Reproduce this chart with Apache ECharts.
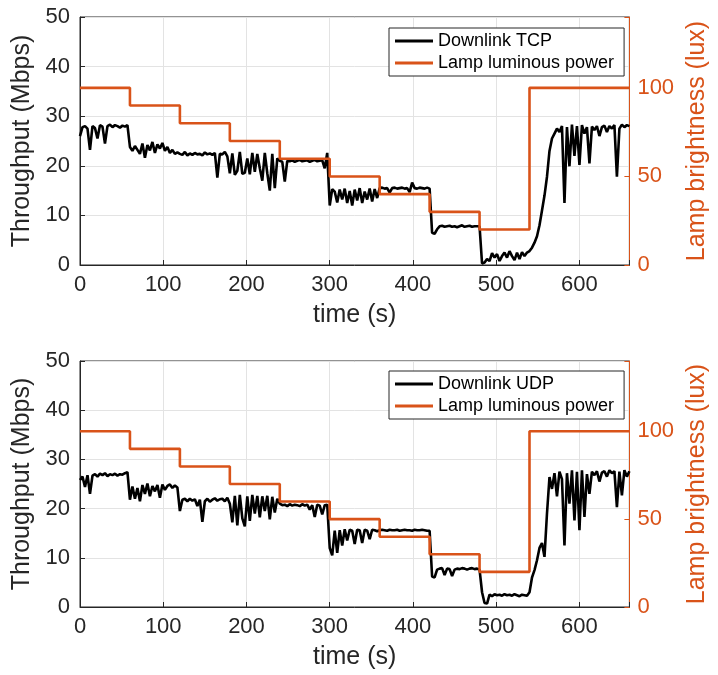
<!DOCTYPE html>
<html>
<head>
<meta charset="utf-8">
<script src="https://cdn.jsdelivr.net/npm/echarts@6/dist/echarts.min.js"></script>
<style>
html,body{margin:0;padding:0;background:#fff;overflow:hidden;}
#chart{width:718px;height:675px;}
</style>
</head>
<body>
<div id="chart"></div>
<script>
// ---- data ----
const sampleStep = 3; // seconds between throughput samples (0..660)
const tcpMbps = [
 26,27.8,28,27.5,23.2,28,27.6,25.5,28.2,27.9,24.5,28,28.3,27.8,28.2,28,27.7,28.1,27.9,28.2,
 23.8,23,24,23.2,22.4,24.5,21.6,24.2,23.1,24.8,22.6,24.3,23.5,24.6,23,23.8,22.6,23.2,22.4,22.7,
 22.4,22.2,22.8,22.1,22.5,22.2,22.6,22.3,22.4,22.1,22.7,22.3,22.5,22.2,22.6,17.6,22.4,22.3,22.8,21.9,
 18.5,22.5,18.2,19,22.8,18.4,18.6,21.5,18.3,22.6,18.8,22.4,19.5,17,22.6,18.5,15,22.4,15.5,21.5,
 21,20.8,16.8,21,20.9,21.1,20.8,21,21.2,20.9,21,21.1,20.8,21,21.2,20.9,21,21.1,19.5,22.6,
 12,15.3,14.8,12.6,15.2,13.2,15.4,12.5,14.9,12,15.2,13,15.5,12.5,14.8,13.2,15.4,12.8,15.3,13.5,
 15.5,15.6,15.4,15.5,14.6,15.5,15.6,15.4,15.5,15.6,15.4,15.5,14.7,16.6,15.5,15.4,15.6,15.5,15.4,15.6,
 15.4,6.5,6.3,7.2,7.8,7.9,7.7,7.8,7.9,7.7,7.8,7.6,7.8,8,7.7,7.8,7.9,7.7,7.8,7.8,
 7.8,0.3,0.5,1.2,0.8,2.4,1.5,2.2,0.8,1.8,2.5,1.5,2.8,1.8,1,2.5,1.2,2.6,1.8,2.5,
 2.8,3.5,4.5,5.8,8,11,14,17.8,23,25.5,26.5,27.5,26.8,28,12.5,27.8,19.9,28.3,22,28,
 20.2,28.2,26.5,27.8,20.5,27.9,27.2,28,26,27.8,28.1,26.8,28,27.5,28.2,17.8,27.5,28.3,27.8,28.2,28
];
const udpMbps = [
 25.8,26.5,24.4,26.8,23,26.7,27,26.5,27.1,26.8,27.2,26.6,27,26.8,27.1,26.7,27,26.9,27.2,27.4,
 21.8,24.5,22,24.2,21.5,24.8,23,25.1,22.5,24.6,23.5,24.8,22.2,24.9,23.8,24.6,24.9,24.2,24.7,24.3,
 19.5,21.8,22,21.5,22,21.6,21.9,20.5,21.8,17.3,21.5,22,21.4,21.8,22.1,21.6,21.9,22,21.5,22.2,
 21,17.2,22.6,16.6,22.8,18,16.4,22.5,17.5,22.8,19,22.6,18.2,22.5,19.5,22.6,17.8,22.4,19.2,22,
 21,20.7,20.8,20.5,20.9,20.6,20.8,20.7,20.5,20.9,20.6,20.8,19.8,20.7,18.3,20.8,20.6,18.8,20.7,20.8,
 12,10.5,15.5,11,15.6,12.5,15.8,13.5,15.7,15.5,12.8,15.7,15.6,13,15.7,15.5,13.8,15.7,15.6,15.4,
 15.6,15.7,15.6,15.5,15.7,15.6,15.6,15.7,15.5,15.6,15.7,15.6,15.6,15.5,15.7,15.6,15.6,15.7,15.6,15.5,
 15.5,6.2,6,7.6,7.8,7.9,6.5,7.8,7.7,6.3,7.6,7.8,7.7,7.9,7.8,7.6,7.8,7.9,7.7,7.8,
 7.6,3,0.8,0.7,2.5,2.2,2.6,2.4,2.5,2.3,2.6,2.4,2.5,2.3,2.6,2.4,2.2,2.5,2.4,2.3,
 3,6,7.5,9.5,12,13,10.2,19,26.4,24,27.2,22.5,27.5,26,12.5,27.2,21,27.8,17.6,27.5,
 15.6,27.8,18.3,27,23,27.5,26.8,27.6,25.5,27.3,27.6,26.5,27.8,27.2,27.6,20.3,27.5,22.7,27.8,26.5,27.6
];
const lampTimes = [0,60,120,180,240,300,360,420,480,540,660];
const lampLux = [100,90,80,70,60,50,40,30,20,100,100];
const xTicks = [0,100,200,300,400,500,600];
const leftTicks = [0,10,20,30,40,50];
const rightTicks = [0,50,100];
const seriesNames = ['Downlink TCP','Downlink UDP'];
const lampName = 'Lamp luminous power';

// ---- build ----
const ORANGE = '#D95319';
const AXIS = '#262626';
const GRID = '#e3e3e3';
const FONT = 'Liberation Sans, Arial, Helvetica, sans-serif';
const TICK_FS = 22, NAME_FS = 25;

function pairs(vals){ return vals.map((v,i)=>[i*sampleStep, v]); }
const lampData = lampTimes.map((t,i)=>[t, lampLux[i]]);

const grids = [
  {left:80, right:83, top:17, height:248, show:true, borderColor:AXIS, borderWidth:1},
  {left:80, right:83, top:361, height:246, show:true, borderColor:AXIS, borderWidth:1}
];
const xAxes = [], yAxes = [], series = [], legends = [];
const legendTops = [28, 371];
[tcpMbps, udpMbps].forEach((vals, g) => {
  xAxes.push({
    type:'value', gridIndex:g, min:0, max:660, interval:100,
    name:'time (s)', nameLocation:'middle', nameGap:38,
    nameTextStyle:{fontFamily:FONT, fontSize:NAME_FS, color:AXIS},
    axisLine:{show:true, lineStyle:{color:AXIS, width:1}},
    axisTick:{show:true, inside:true, length:5, lineStyle:{color:AXIS}},
    axisLabel:{fontFamily:FONT, fontSize:TICK_FS, color:AXIS, margin:9,
      formatter:v => xTicks.includes(v) ? String(v) : ''},
    splitLine:{show:true, lineStyle:{color:GRID, width:1}}
  });
  yAxes.push({
    type:'value', gridIndex:g, position:'left', min:0, max:50, interval:10,
    name:'Throughput (Mbps)', nameLocation:'middle', nameGap:40, nameRotate:90,
    nameTextStyle:{fontFamily:FONT, fontSize:NAME_FS, color:AXIS},
    axisLine:{show:true, lineStyle:{color:AXIS, width:1}},
    axisTick:{show:true, inside:true, length:5, lineStyle:{color:AXIS}},
    axisLabel:{fontFamily:FONT, fontSize:TICK_FS, color:AXIS, margin:10,
      formatter:v => leftTicks.includes(v) ? String(v) : ''},
    splitLine:{show:true, lineStyle:{color:GRID, width:1}}
  });
  yAxes.push({
    type:'value', gridIndex:g, position:'right', min:0, max:140, interval:50,
    name:'Lamp brightness (lux)', nameLocation:'middle', nameGap:55, nameRotate:90,
    nameTextStyle:{fontFamily:FONT, fontSize:NAME_FS, color:ORANGE},
    axisLine:{show:true, lineStyle:{color:ORANGE, width:1}},
    axisTick:{show:true, inside:true, length:5, lineStyle:{color:ORANGE},
      interval:(i,v)=>rightTicks.includes(Number(v))},
    axisLabel:{fontFamily:FONT, fontSize:TICK_FS, color:ORANGE, margin:8,
      formatter:v => rightTicks.includes(v) ? String(v) : ''},
    splitLine:{show:false}
  });
  series.push({
    name:seriesNames[g], type:'line', xAxisIndex:g, yAxisIndex:2*g,
    data:pairs(vals), showSymbol:false, symbol:'none',
    lineStyle:{color:'#000', width:2.6}, itemStyle:{color:'#000'}, z:2, animation:false
  });
  series.push({
    name:lampName, type:'line', xAxisIndex:g, yAxisIndex:2*g+1,
    data:lampData, step:'end', showSymbol:false, symbol:'none',
    lineStyle:{color:ORANGE, width:2.6}, itemStyle:{color:ORANGE}, z:3, animation:false
  });
  legends.push({
    data:[seriesNames[g], lampName], orient:'vertical',
    left:389, top:legendTops[g], width:236,
    padding:[4,10,4,6], itemGap:4, itemWidth:38, itemHeight:3, icon:'rect',
    backgroundColor:'#fff', borderColor:AXIS, borderWidth:1,
    textStyle:{fontFamily:FONT, fontSize:18, color:'#000'},
    selectedMode:false
  });
});

const chart = echarts.init(document.getElementById('chart'), null, {renderer:'canvas'});
chart.setOption({
  animation:false,
  backgroundColor:'#fff',
  grid:grids, xAxis:xAxes, yAxis:yAxes, series:series, legend:legends
});
</script>
</body>
</html>
